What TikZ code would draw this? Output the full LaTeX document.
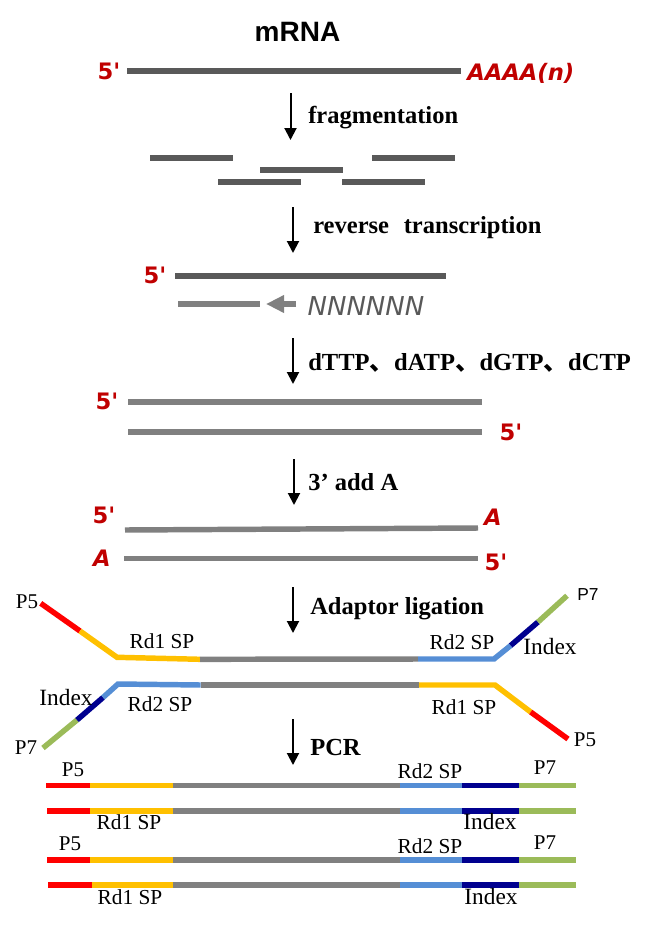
\documentclass[tikz,border=0pt]{standalone}
\usepackage{fontspec}
\setmainfont{Liberation Serif}
\newfontfamily\lsans{Liberation Sans}
\newfontfamily\dvs{DejaVu Sans}
\newfontfamily\dvq{DejaVu Sans}[Ligatures=TeXOff]
\newfontfamily\cjk{Noto Sans CJK SC}
\usetikzlibrary{arrows.meta}
\definecolor{dg}{HTML}{595959}
\definecolor{lg}{HTML}{808080}
\definecolor{rlab}{HTML}{C00000}
\definecolor{ared}{HTML}{FF0000}
\definecolor{ayel}{HTML}{FFC000}
\definecolor{ablu}{HTML}{558ED5}
\definecolor{anav}{HTML}{00008F}
\definecolor{agrn}{HTML}{9BBB59}
\newcommand{\fivep}{5{\dvq\itshape '}}
\begin{document}
\begin{tikzpicture}[x=0.75pt,y=-0.75pt,
  strand/.style={line width=4.1pt},
  dstrand/.style={strand, draw=dg},
  lstrand/.style={strand, draw=lg},
  stepline/.style={line width=1.5pt, -{Triangle[length=9pt,width=9pt]}},
  steplab/.style={anchor=base west, inner sep=0pt, font=\fontsize{18.4}{20}\selectfont\bfseries},
  endlab/.style={inner sep=0pt, text=rlab, font=\dvs\bfseries\fontsize{17}{18}\selectfont},
  endlabi/.style={inner sep=0pt, text=rlab, font=\dvs\bfseries\itshape\fontsize{17}{18}\selectfont},
  seglab/.style={inner sep=0pt, font=\fontsize{16}{18}\selectfont},
  idxlab/.style={inner sep=0pt, font=\fontsize{17.5}{18}\selectfont},
  plab/.style={inner sep=0pt, font=\fontsize{15.75}{18}\selectfont},
]
\useasboundingbox (0,0) rectangle (651,925);

% ---- mRNA ----
\node[anchor=base, inner sep=0pt, font=\lsans\bfseries\fontsize{21}{24}\selectfont] (title) at (297.5,41.7) {mRNA};
\draw[dstrand] (127,71) -- (461,71);
\node[endlab] (m5) at (109,71.5) {\fivep};
\node[endlabi, anchor=base west] (polyA) at (467,80) {AAAA(n)};

% ---- fragmentation ----
\coordinate (a1s) at (290.5,93); \coordinate (a1e) at (290.5,140);
\draw[stepline] (a1s) -- (a1e);
\node[steplab] (lfrag) at (308,123) {fragmentation};
\draw[dstrand] (150,158) -- (233,158);
\draw[dstrand] (372,158) -- (455,158);
\draw[dstrand] (260,170) -- (343,170);
\draw[dstrand] (218,182) -- (301,182);
\draw[dstrand] (342,182) -- (425,182);

% ---- reverse transcription ----
\coordinate (a2s) at (293,207); \coordinate (a2e) at (293,253);
\draw[stepline] (a2s) -- (a2e);
\node[steplab] (lrt) at (313,233) {reverse\hspace{0.6em}transcription};
\node[endlab] (rt5) at (155,275.5) {\fivep};
\draw[dstrand] (175,276) -- (446,276);
\draw[lstrand] (178,304) -- (260,304);
\draw[lstrand, -{Triangle[length=13.5pt,width=12.5pt]}] (296,304) -- (266,304);
\node[inner sep=0pt, text=dg, font=\dvs\itshape\fontsize{19.5}{20}\selectfont] (nn) at (366,306) {NNNNNN};

% ---- dNTP ----
\coordinate (a3s) at (293,338); \coordinate (a3e) at (293,384);
\draw[stepline] (a3s) -- (a3e);
\node[steplab] (ldntp) at (308,370) {dTTP{\cjk 、}dATP{\cjk 、}dGTP{\cjk 、}dCTP};
\draw[lstrand] (128,402) -- (482,402);
\draw[lstrand] (128,432) -- (482,432);
\node[endlab] (d5a) at (107,401) {\fivep};
\node[endlab] (d5b) at (511,432) {\fivep};

% ---- 3' add A ----
\coordinate (a4s) at (294,459); \coordinate (a4e) at (294,505);
\draw[stepline] (a4s) -- (a4e);
\node[steplab] (ladd) at (308,490.7) {3’ add A};
\draw[lstrand] (125,530) -- (478,528);
\draw[lstrand] (124,558.7) -- (478,558.7);
\node[endlab] (t5a) at (104,515.5) {\fivep};
\node[endlabi] (tAa) at (102,558.5) {A};
\node[endlabi] (tAb) at (493,517.5) {A};
\node[endlab] (t5b) at (496,562.5) {\fivep};

% ---- adaptor ligation ----
\coordinate (a5s) at (293,587); \coordinate (a5e) at (293,633);
\draw[stepline] (a5s) -- (a5e);
\node[steplab] (llig) at (310,614) {Adaptor ligation};
% top strand
\draw[strand, draw=ared] (40.7,603.3) -- (80,631);
\draw[strand, draw=ayel] (80,631) -- (117,657.3) -- (200,659.3);
\draw[strand, draw=lg] (200,659.3) -- (418,659);
\draw[strand, draw=ablu] (418,659) -- (494,659) -- (510.7,645.5);
\draw[strand, draw=anav] (510.7,645.5) -- (538,622);
\draw[strand, draw=agrn] (538,622) -- (567,595.7);
% bottom strand
\draw[strand, draw=agrn] (43,748) -- (77,720);
\draw[strand, draw=anav] (77,720) -- (103,697.5);
\draw[strand, draw=ablu] (103,697.5) -- (118,684) -- (200.7,685);
\draw[strand, draw=lg] (200.7,685) -- (419,685);
\draw[strand, draw=ayel] (419,685) -- (495,685) -- (530.7,712);
\draw[strand, draw=ared] (530.7,712) -- (568,739);
% labels
\node[plab] (lp5a) at (27,602) {P5};
\node[seglab] (lrd1a) at (162,641) {Rd1 SP};
\node[seglab] (lrd2a) at (462,642) {Rd2 SP};
\node[idxlab] (lidxa) at (550,647) {Index};
\node[inner sep=0pt, font=\lsans\fontsize{13}{14}\selectfont] (lp7a) at (588,595) {P7};
\node[idxlab] (lidxb) at (66,698) {Index};
\node[seglab] (lrd2b) at (160,704) {Rd2 SP};
\node[seglab] (lrd1b) at (464,707) {Rd1 SP};
\node[plab] (lp7b) at (26,748) {P7};
\node[plab] (lp5b) at (585,740) {P5};

% ---- PCR ----
\coordinate (a6s) at (293,719); \coordinate (a6e) at (293,765);
\draw[stepline] (a6s) -- (a6e);
\node[steplab] (lpcr) at (310,755) {PCR};
\foreach \yy/\xs/\xr in {785.7/46/90, 811/47/90, 860/47/90, 885/48/92}{
  \draw[strand, draw=ared] (\xs,\yy) -- (\xr,\yy);
  \draw[strand, draw=ayel] (\xr,\yy) -- (172.7,\yy);
  \draw[strand, draw=lg] (172.7,\yy) -- (400,\yy);
  \draw[strand, draw=ablu] (400,\yy) -- (462,\yy);
  \draw[strand, draw=anav] (462,\yy) -- (519,\yy);
  \draw[strand, draw=agrn] (519,\yy) -- (575.7,\yy);
}
\node[plab] (pp5a) at (73,770) {P5};
\node[seglab] (prd2a) at (430,771) {Rd2 SP};
\node[plab] (pp7a) at (545,768) {P7};
\node[seglab] (prd1a) at (129,822) {Rd1 SP};
\node[idxlab] (pidxa) at (490,822) {Index};
\node[plab] (pp5b) at (70,844) {P5};
\node[seglab] (prd2b) at (430,846) {Rd2 SP};
\node[plab] (pp7b) at (545,843) {P7};
\node[seglab] (prd1b) at (130,897) {Rd1 SP};
\node[idxlab] (pidxb) at (491,897) {Index};
\end{tikzpicture}
\end{document}
